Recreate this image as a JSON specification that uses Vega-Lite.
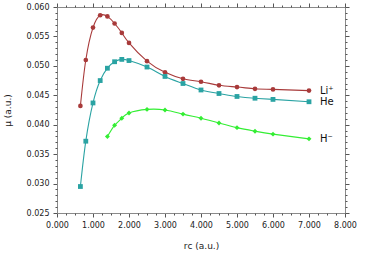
{
  "$schema": "https://vega.github.io/schema/vega-lite/v6.json",
  "width": 288,
  "height": 206,
  "autosize": "none",
  "padding": {"left": 57, "top": 7, "right": 34, "bottom": 46},
  "background": "white",
  "config": {
    "font": "DejaVu Sans",
    "view": {"stroke": "#8a8a8a", "strokeWidth": 1},
    "axis": {"grid": false, "labelFlush": false, "domainColor": "#8a8a8a", "tickColor": "#555", "labelColor": "#222", "labelFont": "DejaVu Sans", "labelFontSize": 8, "titleFont": "DejaVu Sans", "titleFontSize": 9, "titleFontWeight": "normal", "titleColor": "#222"}
  },
  "data": {"values": [
    {"series": "Li⁺", "r": 0.65, "mu": 0.0432},
    {"series": "Li⁺", "r": 0.8, "mu": 0.0510},
    {"series": "Li⁺", "r": 1.0, "mu": 0.0565},
    {"series": "Li⁺", "r": 1.2, "mu": 0.0586},
    {"series": "Li⁺", "r": 1.4, "mu": 0.0584},
    {"series": "Li⁺", "r": 1.6, "mu": 0.0572},
    {"series": "Li⁺", "r": 1.8, "mu": 0.0556},
    {"series": "Li⁺", "r": 2.0, "mu": 0.0539},
    {"series": "Li⁺", "r": 2.5, "mu": 0.0508},
    {"series": "Li⁺", "r": 3.0, "mu": 0.0489},
    {"series": "Li⁺", "r": 3.5, "mu": 0.0478},
    {"series": "Li⁺", "r": 4.0, "mu": 0.0473},
    {"series": "Li⁺", "r": 4.5, "mu": 0.0467},
    {"series": "Li⁺", "r": 5.0, "mu": 0.0464},
    {"series": "Li⁺", "r": 5.5, "mu": 0.0461},
    {"series": "Li⁺", "r": 6.0, "mu": 0.0460},
    {"series": "Li⁺", "r": 7.0, "mu": 0.0458},
    {"series": "He", "r": 0.65, "mu": 0.0295},
    {"series": "He", "r": 0.8, "mu": 0.0372},
    {"series": "He", "r": 1.0, "mu": 0.0437},
    {"series": "He", "r": 1.2, "mu": 0.0475},
    {"series": "He", "r": 1.4, "mu": 0.0496},
    {"series": "He", "r": 1.6, "mu": 0.0507},
    {"series": "He", "r": 1.8, "mu": 0.0511},
    {"series": "He", "r": 2.0, "mu": 0.0509},
    {"series": "He", "r": 2.5, "mu": 0.0498},
    {"series": "He", "r": 3.0, "mu": 0.0482},
    {"series": "He", "r": 3.5, "mu": 0.0470},
    {"series": "He", "r": 4.0, "mu": 0.0459},
    {"series": "He", "r": 4.5, "mu": 0.0453},
    {"series": "He", "r": 5.0, "mu": 0.0448},
    {"series": "He", "r": 5.5, "mu": 0.0445},
    {"series": "He", "r": 6.0, "mu": 0.0443},
    {"series": "He", "r": 7.0, "mu": 0.0439},
    {"series": "H⁻", "r": 1.4, "mu": 0.0380},
    {"series": "H⁻", "r": 1.6, "mu": 0.0399},
    {"series": "H⁻", "r": 1.8, "mu": 0.0411},
    {"series": "H⁻", "r": 2.0, "mu": 0.0420},
    {"series": "H⁻", "r": 2.5, "mu": 0.0426},
    {"series": "H⁻", "r": 3.0, "mu": 0.0425},
    {"series": "H⁻", "r": 3.5, "mu": 0.0418},
    {"series": "H⁻", "r": 4.0, "mu": 0.0411},
    {"series": "H⁻", "r": 4.5, "mu": 0.0403},
    {"series": "H⁻", "r": 5.0, "mu": 0.0395},
    {"series": "H⁻", "r": 5.5, "mu": 0.0389},
    {"series": "H⁻", "r": 6.0, "mu": 0.0384},
    {"series": "H⁻", "r": 7.0, "mu": 0.0376}
  ]},
  "resolve": {"axis": {"x": "independent", "y": "independent"}},
  "layer": [
    {
      "mark": {"type": "line", "interpolate": "natural", "strokeWidth": 1.1},
      "encoding": {
        "x": {"field": "r", "type": "quantitative", "scale": {"domain": [0, 8], "nice": false, "zero": false},
              "axis": {"orient": "bottom", "values": [0,1,2,3,4,5,6,7,8], "format": ".3f", "tickSize": 4, "labelPadding": 4, "title": "rᴄ (a.u.)", "titlePadding": 12}},
        "y": {"field": "mu", "type": "quantitative", "scale": {"domain": [0.025, 0.060], "nice": false, "zero": false},
              "axis": {"orient": "left", "values": [0.025,0.030,0.035,0.040,0.045,0.050,0.055,0.060], "format": ".3f", "tickSize": 4, "labelPadding": 4, "title": "μ (a.u.)", "titlePadding": 14}},
        "color": {"field": "series", "type": "nominal", "legend": null,
                  "scale": {"domain": ["Li⁺", "He", "H⁻"], "range": ["#a83a3a", "#2aa3a3", "#33ee33"]}}
      }
    },
    {
      "mark": {"type": "point", "filled": true, "opacity": 1},
      "encoding": {
        "x": {"field": "r", "type": "quantitative",
              "axis": {"orient": "bottom", "values": [0.25,0.5,0.75,1.25,1.5,1.75,2.25,2.5,2.75,3.25,3.5,3.75,4.25,4.5,4.75,5.25,5.5,5.75,6.25,6.5,6.75,7.25,7.5,7.75], "labels": false, "domain": false, "tickSize": 2, "title": null}},
        "y": {"field": "mu", "type": "quantitative",
              "axis": {"orient": "left", "values": [0.026,0.027,0.028,0.029,0.031,0.032,0.033,0.034,0.036,0.037,0.038,0.039,0.041,0.042,0.043,0.044,0.046,0.047,0.048,0.049,0.051,0.052,0.053,0.054,0.056,0.057,0.058,0.059], "labels": false, "domain": false, "tickSize": 2, "title": null}},
        "color": {"field": "series", "type": "nominal", "legend": null,
                  "scale": {"domain": ["Li⁺", "He", "H⁻"], "range": ["#800000", "#008080", "#22dd22"]}},
        "shape": {"field": "series", "type": "nominal", "legend": null,
                  "scale": {"domain": ["Li⁺", "He", "H⁻"], "range": ["circle", "square", "diamond"]}},
        "size": {"field": "series", "type": "nominal", "legend": null,
                 "scale": {"domain": ["Li⁺", "He", "H⁻"], "range": [22, 24, 10]}}
      }
    },
    {
      "transform": [{"filter": "datum.r == 7"}],
      "mark": {"type": "text", "align": "left", "baseline": "middle", "dx": 11, "fontSize": 10, "color": "#111"},
      "encoding": {
        "x": {"field": "r", "type": "quantitative",
              "axis": {"orient": "top", "values": [0,1,2,3,4,5,6,7,8], "labels": false, "domain": false, "tickSize": 4, "title": null}},
        "y": {"field": "mu", "type": "quantitative",
              "axis": {"orient": "right", "values": [0.025,0.030,0.035,0.040,0.045,0.050,0.055,0.060], "labels": false, "domain": false, "tickSize": 4, "title": null}},
        "text": {"field": "series"}
      }
    },
    {
      "mark": {"type": "point", "opacity": 0},
      "encoding": {
        "x": {"field": "r", "type": "quantitative",
              "axis": {"orient": "top", "values": [0.25,0.5,0.75,1.25,1.5,1.75,2.25,2.5,2.75,3.25,3.5,3.75,4.25,4.5,4.75,5.25,5.5,5.75,6.25,6.5,6.75,7.25,7.5,7.75], "labels": false, "domain": false, "tickSize": 2, "title": null}},
        "y": {"field": "mu", "type": "quantitative",
              "axis": {"orient": "right", "values": [0.026,0.027,0.028,0.029,0.031,0.032,0.033,0.034,0.036,0.037,0.038,0.039,0.041,0.042,0.043,0.044,0.046,0.047,0.048,0.049,0.051,0.052,0.053,0.054,0.056,0.057,0.058,0.059], "labels": false, "domain": false, "tickSize": 2, "title": null}}
      }
    }
  ]
}
